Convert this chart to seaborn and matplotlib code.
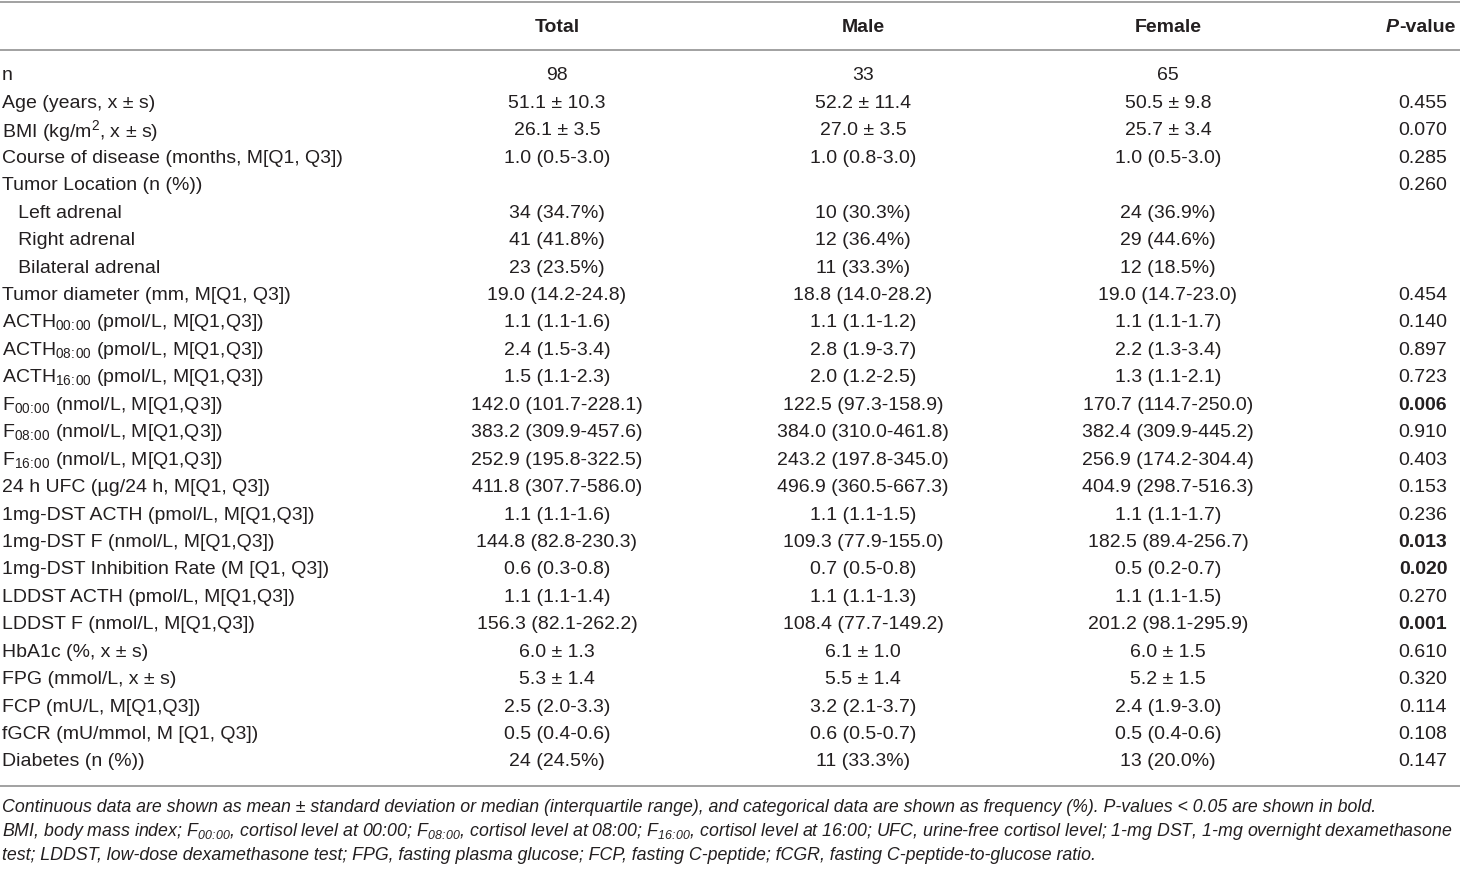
import matplotlib.pyplot as plt
import seaborn as sns

# Table content
sub0, sub8, sub16 = r'$_{00\!:\!00}$', r'$_{08\!:\!00}$', r'$_{16\!:\!00}$'

labels = [
    'n', 'Age (years, x ± s)', 'BMI (kg/m$^{2}$, x ± s)',
    'Course of disease (months, M[Q1, Q3])', 'Tumor Location (n (%))',
    '   Left adrenal', '   Right adrenal', '   Bilateral adrenal',
    'Tumor diameter (mm, M[Q1, Q3])',
    'ACTH' + sub0 + ' (pmol/L, M[Q1,Q3])', 'ACTH' + sub8 + ' (pmol/L, M[Q1,Q3])',
    'ACTH' + sub16 + ' (pmol/L, M[Q1,Q3])',
    'F' + sub0 + ' (nmol/L, M[Q1,Q3])', 'F' + sub8 + ' (nmol/L, M[Q1,Q3])',
    'F' + sub16 + ' (nmol/L, M[Q1,Q3])', '24 h UFC (µg/24 h, M[Q1, Q3])',
    '1mg-DST ACTH (pmol/L, M[Q1,Q3])', '1mg-DST F (nmol/L, M[Q1,Q3])',
    '1mg-DST Inhibition Rate (M [Q1, Q3])', 'LDDST ACTH (pmol/L, M[Q1,Q3])',
    'LDDST F (nmol/L, M[Q1,Q3])', 'HbA1c (%, x ± s)', 'FPG (mmol/L, x ± s)',
    'FCP (mU/L, M[Q1,Q3])', 'fGCR (mU/mmol, M [Q1, Q3])', 'Diabetes (n (%))',
]
total = [
    '98', '51.1 ± 10.3', '26.1 ± 3.5', '1.0 (0.5-3.0)', '',
    '34 (34.7%)', '41 (41.8%)', '23 (23.5%)', '19.0 (14.2-24.8)',
    '1.1 (1.1-1.6)', '2.4 (1.5-3.4)', '1.5 (1.1-2.3)',
    '142.0 (101.7-228.1)', '383.2 (309.9-457.6)', '252.9 (195.8-322.5)',
    '411.8 (307.7-586.0)', '1.1 (1.1-1.6)', '144.8 (82.8-230.3)',
    '0.6 (0.3-0.8)', '1.1 (1.1-1.4)', '156.3 (82.1-262.2)',
    '6.0 ± 1.3', '5.3 ± 1.4', '2.5 (2.0-3.3)', '0.5 (0.4-0.6)', '24 (24.5%)',
]
male = [
    '33', '52.2 ± 11.4', '27.0 ± 3.5', '1.0 (0.8-3.0)', '',
    '10 (30.3%)', '12 (36.4%)', '11 (33.3%)', '18.8 (14.0-28.2)',
    '1.1 (1.1-1.2)', '2.8 (1.9-3.7)', '2.0 (1.2-2.5)',
    '122.5 (97.3-158.9)', '384.0 (310.0-461.8)', '243.2 (197.8-345.0)',
    '496.9 (360.5-667.3)', '1.1 (1.1-1.5)', '109.3 (77.9-155.0)',
    '0.7 (0.5-0.8)', '1.1 (1.1-1.3)', '108.4 (77.7-149.2)',
    '6.1 ± 1.0', '5.5 ± 1.4', '3.2 (2.1-3.7)', '0.6 (0.5-0.7)', '11 (33.3%)',
]
female = [
    '65', '50.5 ± 9.8', '25.7 ± 3.4', '1.0 (0.5-3.0)', '',
    '24 (36.9%)', '29 (44.6%)', '12 (18.5%)', '19.0 (14.7-23.0)',
    '1.1 (1.1-1.7)', '2.2 (1.3-3.4)', '1.3 (1.1-2.1)',
    '170.7 (114.7-250.0)', '382.4 (309.9-445.2)', '256.9 (174.2-304.4)',
    '404.9 (298.7-516.3)', '1.1 (1.1-1.7)', '182.5 (89.4-256.7)',
    '0.5 (0.2-0.7)', '1.1 (1.1-1.5)', '201.2 (98.1-295.9)',
    '6.0 ± 1.5', '5.2 ± 1.5', '2.4 (1.9-3.0)', '0.5 (0.4-0.6)', '13 (20.0%)',
]
pvalues = [
    '', '0.455', '0.070', '0.285', '0.260', '', '', '', '0.454',
    '0.140', '0.897', '0.723', '0.006', '0.910', '0.403', '0.153',
    '0.236', '0.013', '0.020', '0.270', '0.001', '0.610', '0.320',
    '0.114', '0.108', '0.147',
]
headers = ['Total', 'Male', 'Female']

footnotes = [
    'Continuous data are shown as mean ± standard deviation or median (interquartile range), '
    'and categorical data are shown as frequency (%). P-values < 0.05 are shown in bold.',
    'BMI, body mass index; F' + sub0 + ', cortisol level at 00:00; F' + sub8 + ', cortisol level at 08:00; '
    'F' + sub16 + ', cortisol level at 16:00; UFC, urine-free cortisol level; 1-mg DST, 1-mg overnight dexamethasone',
    'test; LDDST, low-dose dexamethasone test; FPG, fasting plasma glucose; FCP, fasting C-peptide; '
    'fCGR, fasting C-peptide-to-glucose ratio.',
]

sns.set_theme(style='white')
plt.rcParams['font.family'] = ['Liberation Sans', 'DejaVu Sans']
plt.rcParams['mathtext.default'] = 'regular'

text_color = '#231f20'
rule_color = '#9a9a9a'
fs = 14

fig = plt.figure(figsize=(14.6, 8.69), dpi=100)
ax = fig.add_axes([0, 0, 1, 1])
ax.set_xlim(0, 1460)
ax.set_ylim(869, 0)
ax.axis('off')

# rules
for y in [1.5, 50, 786]:
    ax.axhline(y, color=rule_color, lw=1.3)

col_x = [557, 863, 1168]
p_x = 1423

# header
for x, h in zip(col_x, headers):
    ax.text(x, 27, h, ha='center', va='center', fontsize=fs,
            fontweight='bold', color=text_color)
ax.text(1399, 27, 'P', ha='right', va='center', fontsize=fs,
        fontweight='bold', fontstyle='italic', color=text_color)
ax.text(1399, 27, '-value', ha='left', va='center', fontsize=fs,
        fontweight='bold', color=text_color)

# body
y0, step = 76, 27.44
for i, lab in enumerate(labels):
    y = y0 + i * step
    ax.text(2, y, lab, ha='left', va='center', fontsize=fs, color=text_color)
    for x, col in zip(col_x, [total, male, female]):
        ax.text(x, y, col[i], ha='center', va='center', fontsize=fs,
                color=text_color)
    p = pvalues[i]
    if p:
        bold = float(p) < 0.05
        ax.text(p_x, y, p, ha='center', va='center', fontsize=fs,
                fontweight='bold' if bold else 'normal', color=text_color)

# footnotes
for i, line in enumerate(footnotes):
    ax.text(2, 807 + i * 24, line, ha='left', va='center', fontsize=12.8,
            fontstyle='italic', color=text_color)

fig.savefig('out.png', dpi=100)
